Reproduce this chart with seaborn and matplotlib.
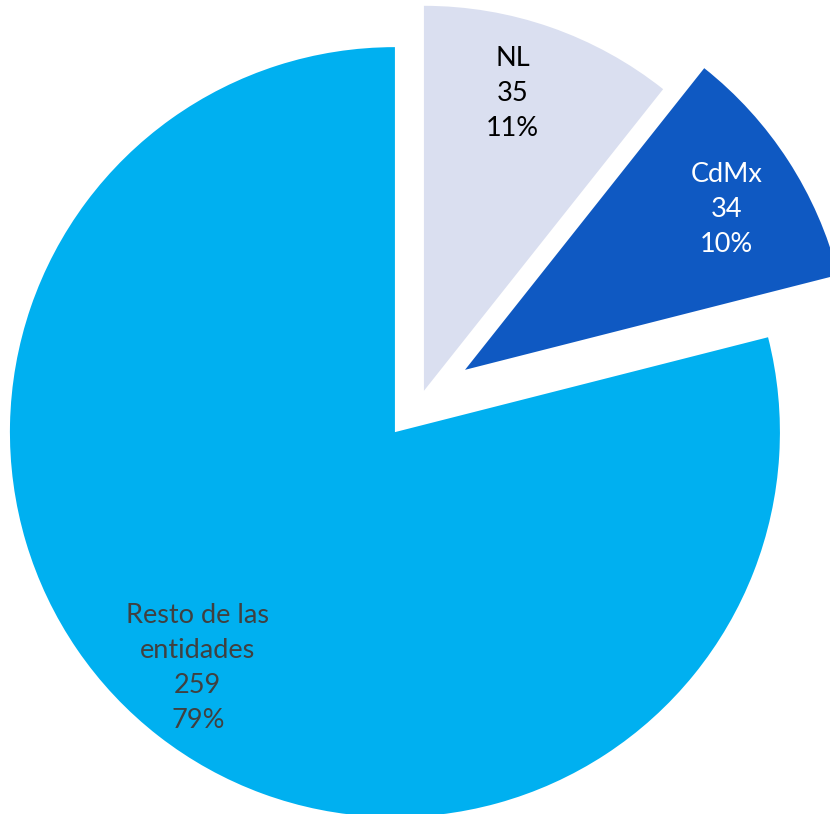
import matplotlib
matplotlib.use("Agg")
import matplotlib.pyplot as plt
import seaborn as sns

names = ["NL", "CdMx", "Resto de las\nentidades"]
values = [35, 34, 259]
colors = ["#DADFF0", "#0F59C2", "#00B0F0"]
text_colors = ["#000000", "#FFFFFF", "#404040"]
explode = [0.02, 0.135, 0.112]
# small label nudges (data units) to mimic the original label placement
label_nudge = [(-0.034, 0.013), (0.003, -0.021), (-0.018, 0.023)]

sns.set_theme(style="white")
plt.rcParams["font.family"] = ["Lato", "DejaVu Sans"]

total = sum(values)
fig = plt.figure(figsize=(8.3, 8.14), dpi=100)
ax = fig.add_axes([0, 0, 1, 1])

wedges, texts, autotexts = ax.pie(
    values, colors=colors, explode=explode, startangle=90, counterclock=False,
    autopct=lambda p: f"{p:.0f}%", pctdistance=0.805, radius=1.0,
    wedgeprops=dict(linewidth=0),
    textprops=dict(fontsize=19.5),
)
for t, name, v, c, (dx, dy) in zip(autotexts, names, values, text_colors, label_nudge):
    t.set_text(f"{name}\n{v}\n{round(100 * v / total):.0f}%")
    t.set_color(c)
    t.set_linespacing(1.5)
    t.set_ha("center")
    t.set_va("center")
    x, y = t.get_position()
    t.set_position((x + dx, y + dy))

ax.set_xlim(-1.0945, 1.0613)
ax.set_ylim(-1.0803, 1.034)
ax.set_aspect("equal")
ax.axis("off")
fig.savefig("out.png", dpi=100)
